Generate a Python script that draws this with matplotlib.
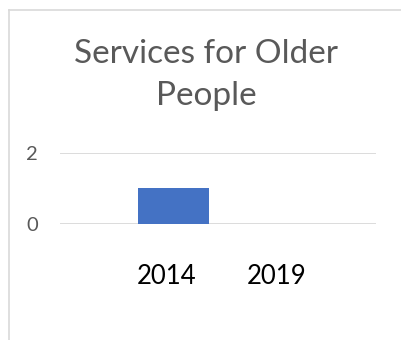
import matplotlib.pyplot as plt
import matplotlib.transforms as mtransforms
from matplotlib.lines import Line2D

years = ["2014", "2019"]
values = [1, 0]
y_ticks = [0, 2]
title_lines = ["Services for Older", "People"]

W, H = 401, 340
fig = plt.figure(figsize=(W / 100, H / 100), dpi=100)

# chart border (top and left edges visible)
border = "#d9d9d9"
fig.add_artist(Line2D([9 / W, 9 / W], [0, 1 - 10 / H], color=border, lw=1.2))
fig.add_artist(Line2D([9 / W, 1], [1 - 10 / H, 1 - 10 / H], color=border, lw=1.2))

# plot area: x 60..376 px, y=0 at 223.7 px, y=2 at 153 px
ax = fig.add_axes([60 / W, 1 - 223.7 / H, 316 / W, (223.7 - 153) / H])
unit = 110.0
ax.set_xlim((60 - 173.5) / unit, (376 - 173.5) / unit)
ax.set_ylim(0, 2)

ax.bar(range(len(years)), values, width=71 / unit, color="#4472c4", zorder=3)

ax.set_yticks(y_ticks)
ax.yaxis.grid(True, color="#d9d9d9", lw=1.3, zorder=0)
ax.set_axisbelow(True)
for s in ax.spines.values():
    s.set_visible(False)
ax.tick_params(axis="y", length=0, pad=16, labelsize=14.5, labelcolor="#595959")
ax.tick_params(axis="x", length=0, pad=29, labelsize=18.5, labelcolor="black")
ax.set_xticks(range(len(years)))
ax.set_xticklabels(years)
for lbl in ax.get_yticklabels():
    lbl.set_family("Lato")
# category labels sit slightly left of the bar centres
shift = mtransforms.ScaledTranslation(-7 / 100, 0, fig.dpi_scale_trans)
for lbl in ax.get_xticklabels():
    lbl.set_family("Lato")
    lbl.set_transform(lbl.get_transform() + shift)

# two-line title, each line on its own baseline
for text, base in zip(title_lines, [63, 105]):
    fig.text(206 / W, 1 - base / H, text, ha="center", va="baseline",
             fontsize=24, color="#595959", family="Lato")

fig.savefig("out.png", dpi=100)
